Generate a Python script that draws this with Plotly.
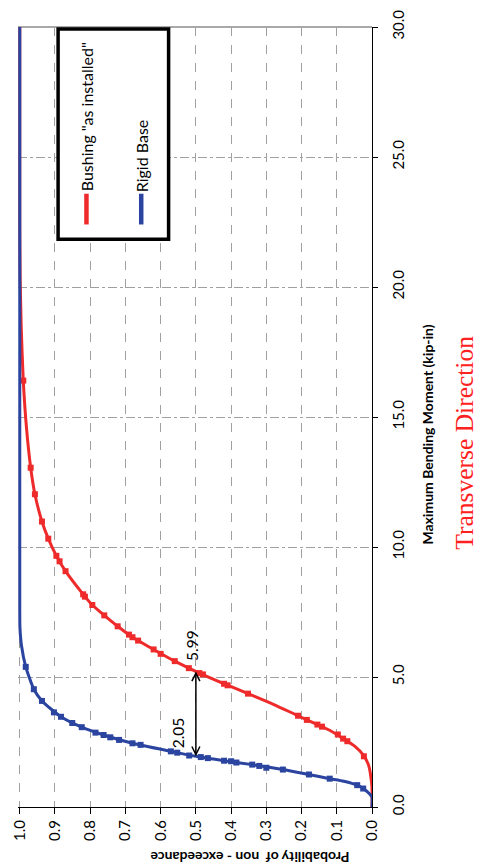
import plotly.graph_objects as go

# ---------------- data ----------------
# Bushing "as installed": fitted curve (probability, moment)
bush_line_p = [0.0, 0.0, 0.002, 0.0095, 0.023, 0.05, 0.082, 0.12, 0.155, 0.21, 0.28, 0.352,
               0.42, 0.49, 0.56, 0.62, 0.68, 0.722, 0.76, 0.794, 0.82, 0.87, 0.896, 0.919,
               0.937, 0.957, 0.969, 0.981, 0.99, 0.996, 0.999, 1.0, 1.0]
bush_line_m = [0.0, 0.7, 1.03, 1.6, 1.97, 2.35, 2.63, 2.95, 3.17, 3.51, 3.95, 4.36,
               4.74, 5.15, 5.61, 6.06, 6.53, 6.95, 7.37, 7.77, 8.18, 9.07, 9.66, 10.32,
               10.98, 12.03, 13.05, 14.6, 16.4, 18.5, 20.5, 22.5, 30.0]
# Bushing "as installed": sample points
bush_pts_p = [0.023, 0.07, 0.082, 0.097, 0.142, 0.155, 0.185, 0.21, 0.352, 0.41, 0.42, 0.48,
              0.49, 0.52, 0.56, 0.60, 0.62, 0.664, 0.68, 0.69, 0.722, 0.76, 0.794, 0.815,
              0.82, 0.87, 0.887, 0.896, 0.919, 0.937, 0.957, 0.969, 0.99]
bush_pts_m = [1.95, 2.53, 2.63, 2.79, 3.09, 3.17, 3.35, 3.51, 4.36, 4.68, 4.74, 5.10,
              5.15, 5.34, 5.61, 5.89, 6.06, 6.40, 6.53, 6.63, 6.95, 7.37, 7.77, 8.09,
              8.18, 9.07, 9.45, 9.66, 10.32, 10.98, 12.03, 13.05, 16.4]

# Rigid Base: fitted curve
rigid_line_p = [0.0, 0.0, 0.008, 0.025, 0.042, 0.08, 0.12, 0.18, 0.253, 0.34, 0.42, 0.5,
                0.571, 0.68, 0.762, 0.824, 0.883, 0.937, 0.96, 0.983, 0.995, 0.9995, 1.0, 1.0]
rigid_line_m = [0.0, 0.38, 0.52, 0.71, 0.84, 0.99, 1.09, 1.25, 1.44, 1.63, 1.78, 1.95,
                2.14, 2.45, 2.77, 3.07, 3.47, 4.08, 4.53, 5.39, 6.2, 6.9, 7.6, 30.0]
# Rigid Base: sample points
rigid_pts_p = [0.025, 0.042, 0.12, 0.179, 0.253, 0.30, 0.32, 0.34, 0.385, 0.40, 0.42, 0.466,
               0.486, 0.519, 0.553, 0.571, 0.657, 0.68, 0.718, 0.743, 0.762, 0.785, 0.824,
               0.851, 0.883, 0.903, 0.937, 0.96, 0.983]
rigid_pts_m = [0.71, 0.84, 1.09, 1.25, 1.44, 1.51, 1.58, 1.63, 1.71, 1.76, 1.78, 1.88,
               1.92, 1.98, 2.09, 2.14, 2.39, 2.45, 2.58, 2.68, 2.77, 2.86, 3.07,
               3.23, 3.47, 3.64, 4.08, 4.53, 5.39]

series_names = ['Bushing "as installed"', 'Rigid Base']
prob_ticks = [1.0, 0.9, 0.8, 0.7, 0.6, 0.5, 0.4, 0.3, 0.2, 0.1, 0.0]
moment_ticks = [0.0, 5.0, 10.0, 15.0, 20.0, 25.0, 30.0]

arrow_p = 0.5
arrow_lo = 2.02
arrow_hi = 5.15
label_lo = "2.05"
label_hi = "5.99"

x_title = "Probability of\u00a0 non\u00a0-\u00a0exceedance"
y_title = "Maximum Bending Moment (kip-in)"
chart_note = "Transverse Direction"

# ---------------- styling ----------------
RED = "#ee2a2a"
BLUE = "#2a44a0"
GRID = "#a0a0a0"
FONT = "Lato"

W, H = 482, 866
ML, MR, MT, MB = 10, 110, 21, 59
PW, PH = W - ML - MR, H - MT - MB


def px(xp):
    return (xp - ML) / PW


def py(yp):
    return (H - MB - yp) / PH


fig = go.Figure()
fig.add_trace(go.Scatter(x=bush_line_p, y=bush_line_m, mode="lines",
                         line=dict(color=RED, width=3, shape="spline", smoothing=0.6),
                         hoverinfo="skip", showlegend=False))
fig.add_trace(go.Scatter(x=bush_pts_p, y=bush_pts_m, mode="markers", name=series_names[0],
                         marker=dict(symbol="square", size=6, color=RED), showlegend=False))
fig.add_trace(go.Scatter(x=rigid_line_p, y=rigid_line_m, mode="lines",
                         line=dict(color=BLUE, width=3, shape="spline", smoothing=0.6),
                         hoverinfo="skip", showlegend=False))
fig.add_trace(go.Scatter(x=rigid_pts_p, y=rigid_pts_m, mode="markers", name=series_names[1],
                         marker=dict(symbol="square", size=6, color=BLUE), showlegend=False))

# double-headed arrow
fig.add_shape(type="line", xref="x", yref="y", x0=arrow_p, x1=arrow_p, y0=arrow_lo, y1=arrow_hi,
              line=dict(color="black", width=1.5), layer="above")
fig.add_shape(type="path", xref="x", yref="y", xsizemode="pixel", ysizemode="pixel",
              xanchor=arrow_p, yanchor=arrow_hi, path="M -4,-8 L 0,0 L 4,-8",
              line=dict(color="black", width=1.5), layer="above")
fig.add_shape(type="path", xref="x", yref="y", xsizemode="pixel", ysizemode="pixel",
              xanchor=arrow_p, yanchor=arrow_lo, path="M -4,8 L 0,0 L 4,8",
              line=dict(color="black", width=1.5), layer="above")
fig.add_annotation(x=arrow_p, y=arrow_hi, xref="x", yref="y", text=label_hi, showarrow=False,
                   textangle=-90, xanchor="center", yanchor="middle", xshift=-4, yshift=28,
                   font=dict(family=FONT, size=15.5, color="black"))
fig.add_annotation(x=arrow_p, y=arrow_lo, xref="x", yref="y", text=label_lo, showarrow=False,
                   textangle=-90, xanchor="center", yanchor="middle", xshift=-17, yshift=22,
                   font=dict(family=FONT, size=15.5, color="black"))

# top border
fig.add_shape(type="line", xref="paper", yref="paper", x0=0, x1=1, y0=1, y1=1,
              line=dict(color="#8c8c8c", width=1.5), layer="below")

# legend box (rotated)
fig.add_shape(type="rect", xref="paper", yref="paper", x0=px(51), x1=px(164), y0=py(235), y1=py(23),
              line=dict(color="black", width=3.5), fillcolor="white", layer="above")
fig.add_shape(type="line", xref="paper", yref="paper", x0=px(80), x1=px(80), y0=py(220), y1=py(189),
              line=dict(color=RED, width=4.5), layer="above")
fig.add_shape(type="line", xref="paper", yref="paper", x0=px(136), x1=px(136), y0=py(220), y1=py(189),
              line=dict(color=BLUE, width=4.5), layer="above")
fig.add_annotation(x=px(80), y=py(111.5), xref="paper", yref="paper", text=series_names[0],
                   showarrow=False, textangle=-90, xanchor="center", yanchor="middle",
                   font=dict(family=FONT, size=16, color="black"))
fig.add_annotation(x=px(136), y=py(151), xref="paper", yref="paper", text=series_names[1],
                   showarrow=False, textangle=-90, xanchor="center", yanchor="middle",
                   font=dict(family=FONT, size=16, color="black"))

# axis titles (rotated)
fig.add_annotation(x=px(247), y=py(858), xref="paper", yref="paper",
                   text="<b>" + x_title + "</b>", showarrow=False, textangle=180,
                   xanchor="center", yanchor="middle", font=dict(family=FONT, size=14, color="black"))
fig.add_annotation(x=px(429), y=py(432), xref="paper", yref="paper",
                   text="<b>" + y_title + "</b>", showarrow=False, textangle=-90,
                   xanchor="center", yanchor="middle", font=dict(family=FONT, size=14, color="black"))
fig.add_annotation(x=px(467), y=py(440), xref="paper", yref="paper",
                   text=chart_note, showarrow=False, textangle=-90,
                   xanchor="center", yanchor="middle",
                   font=dict(family="Liberation Serif", size=25.5, color="#ff2020"))

fig.update_layout(
    width=W, height=H,
    margin=dict(l=ML, r=MR, t=MT, b=MB, pad=0),
    paper_bgcolor="white", plot_bgcolor="white",
    showlegend=False,
    font=dict(family=FONT, size=15, color="black"),
    xaxis=dict(range=[1.005, 0], tickvals=prob_ticks, tickformat=".1f", tickangle=-90,
               ticks="outside", ticklen=6, tickcolor="black", showline=True, linecolor="black",
               linewidth=1.2, showgrid=True, gridcolor=GRID, griddash="dash", gridwidth=1,
               zeroline=False, tickfont=dict(family=FONT, size=15, color="black")),
    yaxis=dict(range=[0, 30], tickvals=moment_ticks, tickformat=".1f", tickangle=-90, side="right",
               ticks="outside", ticklen=5, tickcolor="black", showline=True, linecolor="black",
               linewidth=1.2, showgrid=True, gridcolor=GRID, griddash="dashdot", gridwidth=1,
               zeroline=False, ticklabelstandoff=8, tickfont=dict(family=FONT, size=15, color="black")),
)

fig.write_html("out.html", config={"displayModeBar": False},
               post_script="document.body.style.margin='0';document.body.style.overflow='hidden';")
